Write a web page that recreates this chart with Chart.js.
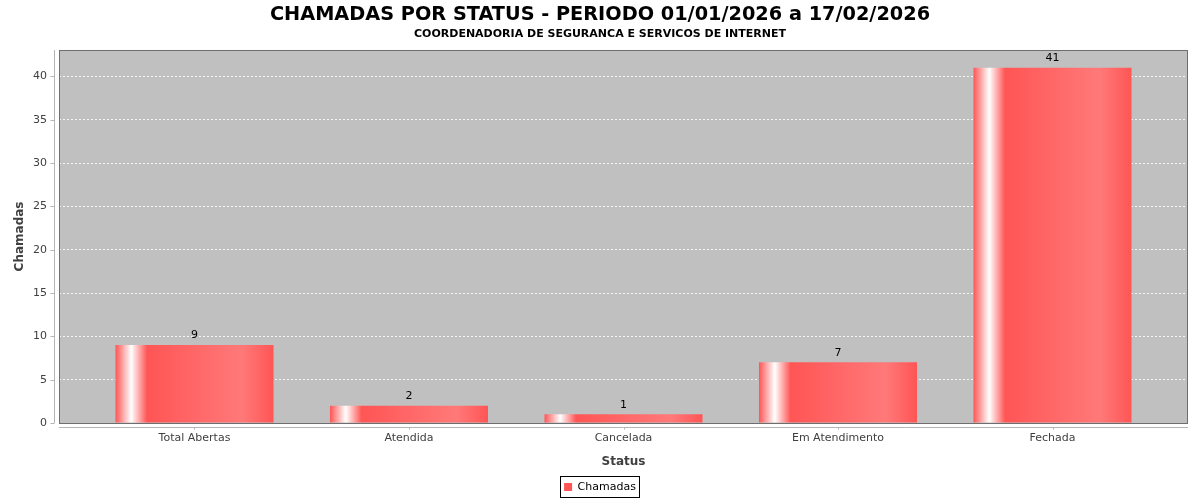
<!DOCTYPE html>
<html>
<head>
<meta charset="utf-8">
<script src="https://cdn.jsdelivr.net/npm/chart.js@4/dist/chart.umd.min.js"></script>
<style>
  html, body { margin: 0; padding: 0; background: #fff; }
</style>
</head>
<body>
<canvas id="myChart" width="1200" height="500"></canvas>
<script>
var categories = ['Total Abertas', 'Atendida', 'Cancelada', 'Em Atendimento', 'Fechada'];
var chamadas = [9, 2, 1, 7, 41];
var seriesName = 'Chamadas';
var yMax = 43.05;
var yStep = 5;

var RED = '#ff5555';
var RED_LIGHT = '#ff7979';
var TEXT = '#404040';
var SANS = 'DejaVu Sans';

// category margins like the java chart: 5% each side, 20% between categories
var catStart = -0.6317;
var catRange = categories.length - 1 + 2 * 0.6317;
var barPct = 0.7368;

function barPaint(context) {
    var chart = context.chart;
    var x = chart.scales.x;
    if (!x || context.dataIndex === undefined) return RED;
    var c = x.getPixelForValue(context.dataIndex);
    var w = (x.getPixelForValue(1) - x.getPixelForValue(0)) * barPct;
    if (!isFinite(c) || !isFinite(w)) return RED;
    var g = chart.ctx.createLinearGradient(c - w / 2, 0, c + w / 2, 0);
    g.addColorStop(0, RED);
    g.addColorStop(0.1, '#ffffff');
    g.addColorStop(0.2, RED);
    g.addColorStop(0.8, RED_LIGHT);
    g.addColorStop(1, RED);
    return g;
}

var plotDecor = {
    id: 'plotDecor',
    beforeDraw: function (chart) {
        var a = chart.chartArea, ctx = chart.ctx;
        ctx.save();
        ctx.fillStyle = '#c0c0c0';
        ctx.fillRect(a.left, a.top, a.right - a.left, a.bottom - a.top);
        ctx.restore();
    },
    afterDatasetsDraw: function (chart) {
        var ctx = chart.ctx;
        var meta = chart.getDatasetMeta(0);
        ctx.save();
        ctx.fillStyle = '#000';
        ctx.font = '11px "' + SANS + '"';
        ctx.textAlign = 'center';
        ctx.textBaseline = 'bottom';
        meta.data.forEach(function (bar, i) {
            ctx.fillText(String(chamadas[i]), bar.x, bar.y - 4);
        });
        ctx.restore();
    },
    afterDraw: function (chart) {
        var a = chart.chartArea, ctx = chart.ctx;
        var x = chart.scales.x, y = chart.scales.y;
        ctx.save();
        // plot outline
        ctx.strokeStyle = '#6e6e6e';
        ctx.lineWidth = 1;
        ctx.strokeRect(Math.round(a.left) + 0.5, Math.round(a.top) + 0.5,
            Math.round(a.right - a.left) - 1, Math.round(a.bottom - a.top));
        // offset axis lines
        ctx.strokeStyle = '#b4b4b4';
        ctx.beginPath();
        var ax = Math.round(a.left) - 4.5;
        ctx.moveTo(ax, a.top);
        ctx.lineTo(ax, a.bottom);
        y.ticks.forEach(function (t) {
            var py = Math.round(y.getPixelForValue(t.value)) + 0.5;
            ctx.moveTo(ax, py);
            ctx.lineTo(ax - 4, py);
        });
        var ay = Math.round(a.bottom) + 4.5;
        ctx.moveTo(a.left, ay);
        ctx.lineTo(a.right, ay);
        x.ticks.forEach(function (t, i) {
            var px = Math.round(x.getPixelForTick(i)) + 0.5;
            ctx.moveTo(px, ay);
            ctx.lineTo(px, ay + 2);
        });
        ctx.stroke();
        // legend frame
        var hb = chart.legend.legendHitBoxes[0];
        if (hb) {
            ctx.strokeStyle = '#000';
            ctx.strokeRect(Math.round(hb.left) - 3.5, Math.round(hb.top) - 5.5,
                Math.round(hb.width) + 7, Math.round(hb.height) + 10);
        }
        ctx.restore();
    }
};

var ctx = document.getElementById('myChart').getContext('2d');
var myChart = new Chart(ctx, {
    type: 'bar',
    data: {
        labels: categories,
        datasets: [{
            label: seriesName,
            data: chamadas,
            backgroundColor: barPaint,
            borderWidth: 0,
            barPercentage: barPct,
            categoryPercentage: 1,
        }],
    },
    options: {
        responsive: false,
        animation: false,
        layout: {
            padding: { left: 0, right: 0, top: 0, bottom: -2.5 },
        },
        plugins: {
            tooltip: { enabled: false },
            title: {
                display: true,
                text: 'CHAMADAS POR STATUS - PERIODO 01/01/2026 a 17/02/2026',
                color: '#000',
                font: { family: SANS, size: 19.3, weight: 'bold' },
                padding: { top: 3, bottom: 0 },
            },
            subtitle: {
                display: true,
                text: 'COORDENADORIA DE SEGURANCA E SERVICOS DE INTERNET',
                color: '#000',
                font: { family: SANS, size: 11, weight: 'bold' },
                padding: { top: 1.6, bottom: 9 },
            },
            legend: {
                position: 'bottom',
                labels: {
                    boxWidth: 8,
                    boxHeight: 8,
                    padding: 2,
                    color: '#000',
                    font: { family: SANS, size: 11 },
                    generateLabels: function () {
                        return [{
                            text: seriesName,
                            fillStyle: RED,
                            strokeStyle: RED,
                            lineWidth: 0,
                            hidden: false,
                            datasetIndex: 0,
                        }];
                    },
                },
            },
        },
        scales: {
            x: {
                offset: false,
                afterBuildTicks: function (scale) {
                    scale._startValue = catStart;
                    scale._valueRange = catRange;
                },
                grid: { display: false, drawTicks: false },
                border: { display: false },
                ticks: {
                    color: TEXT,
                    padding: 9,
                    maxRotation: 0,
                    autoSkip: false,
                    font: { family: SANS, size: 11 },
                },
                title: {
                    display: true,
                    text: 'Status',
                    color: TEXT,
                    font: { family: SANS, size: 12, weight: 'bold' },
                    padding: { top: 0.6, bottom: 10.3 },
                },
            },
            y: {
                min: 0,
                max: yMax,
                afterBuildTicks: function (scale) {
                    scale.ticks = scale.ticks.filter(function (t) { return t.value % yStep === 0; });
                },
                afterFit: function (scale) { scale.width = 59; },
                grid: {
                    color: 'rgba(255,255,255,0.85)',
                    borderDash: [2, 2],
                    drawTicks: false,
                },
                border: { display: false, dash: [2, 2] },
                ticks: {
                    stepSize: yStep,
                    color: TEXT,
                    padding: 12,
                    font: { family: SANS, size: 11 },
                },
                title: {
                    display: true,
                    text: 'Chamadas',
                    color: TEXT,
                    font: { family: SANS, size: 12, weight: 'bold' },
                    padding: { top: 13, bottom: 0 },
                },
            },
            // empty right gutter, keeps the plot off the right edge
            gutter: {
                type: 'linear',
                position: 'right',
                afterFit: function (scale) { scale.width = 12; },
                grid: { display: false, drawTicks: false },
                border: { display: false },
                ticks: { display: false },
            },
        },
    },
    plugins: [plotDecor],
});
</script>
</body>
</html>
